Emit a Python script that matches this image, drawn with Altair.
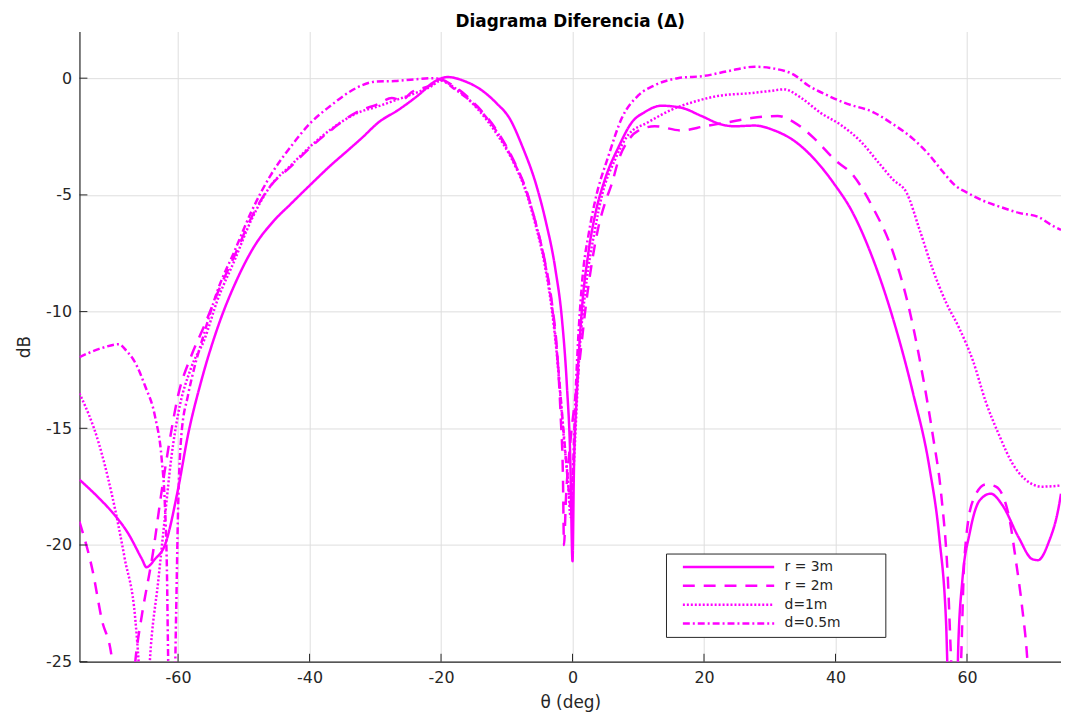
import altair as alt
import pandas as pd

# ---------------- data ----------------
series_names = ["r = 3m", "r = 2m", "d=1m", "d=0.5m"]

theta_r3 = [-75, -72, -70, -67.6, -65.5, -64.8, -63.5, -62, -60, -58.5, -56.5, -54, -51, -48.4,
            -45.4, -42.9, -40, -36.8, -34, -32, -29.5, -26.5, -23.5, -21, -19, -16.5, -14, -11.5,
            -9.6, -7.6, -5.6, -4.1, -2.6, -1.6, -0.85, -0.35, 0, 0.2, 0.65, 1.4, 2.4, 3.4, 4.9, 7,
            9, 11, 13.5, 16.6, 19.6, 22.6, 24.6, 27.7, 30.7, 33.7, 36.8, 39.8, 42.5, 45.5, 48.8,
            51.8, 54.3, 55.8, 56.8, 57.3, 58.4, 58.7, 59.3, 60.4, 61.9, 63.6, 65.4, 67.9, 69.9,
            70.8, 72.4, 74, 74.3]
db_r3 = [-17.2, -18.0, -18.6, -19.5, -20.6, -20.95, -20.6, -20.0, -17.6, -15.3, -13.0, -10.7, -8.6,
         -7.2, -6.1, -5.4, -4.6, -3.74, -3.05, -2.55, -1.89, -1.36, -0.74, -0.15, 0.05, -0.12, -0.48,
         -1.09, -1.71, -2.95, -4.5, -6.1, -8.2, -10.35, -13.2, -16.2, -20.7, -17.0, -13.5, -10.0,
         -7.5, -5.9, -4.36, -2.95, -1.9, -1.45, -1.18, -1.27, -1.62, -1.98, -2.06, -2.03, -2.24,
         -2.68, -3.47, -4.53, -5.7, -7.6, -10.35, -13.5, -16.7, -19.7, -23.2, -27.0, -27.0, -24.1,
         -21.5, -19.5, -18.1, -17.8, -18.3, -19.7, -20.6, -20.65, -19.9, -18.3, -17.8]

theta_r2 = [-75, -73, -71.6, -70.1, -69.3, -67.2, -66.4, -65.5, -63.8, -62.5, -61.5, -60, -58, -56,
            -54, -51.4, -48.9, -45.9, -42.9, -39.8, -36.8, -32.8, -29.5, -27.5, -26, -24.5, -21.5,
            -20.2, -18, -14.5, -11.5, -9, -7.1, -5.6, -4.1, -3.1, -2.3, -1.8, -1.45, -1.3, -1.0,
            -0.3, 0.5, 1.2, 2, 3, 4, 5, 6, 7, 8.4, 10, 12.5, 16.6, 20.1, 23.6, 27.2, 31.2, 33.7,
            36.8, 39.8, 42.8, 45.6, 48.8, 51.3, 53.3, 54.8, 56.1, 57.1, 57.6, 58.0, 58.8, 59.1,
            59.6, 60.9, 62.9, 64.4, 66.4, 67.4, 68.4, 69.2, 69.6]
db_r2 = [-19.0, -21.1, -23.2, -24.8, -27.0, -27.0, -24.7, -23.0, -20.3, -17.7, -15.9, -13.6, -11.9,
         -10.6, -9.2, -7.6, -6.0, -4.6, -3.8, -2.95, -2.24, -1.45, -1.1, -0.85, -0.95, -0.6, -0.3,
         -0.05, -0.35, -1.2, -2.25, -3.5, -4.75, -6.2, -8.0, -9.7, -11.9, -14.5, -17.2, -20.0,
         -18.0, -15.5, -13.5, -11.8, -9.8, -7.8, -6.3, -5.3, -4.5, -3.5, -2.7, -2.25, -2.06,
         -2.24, -2.06, -1.89, -1.71, -1.62, -1.89, -2.59, -3.47, -4.2, -5.5, -7.5, -10.0, -12.8,
         -15.3, -17.9, -21.5, -25.0, -27.0, -27.0, -25.0, -20.6, -18.1, -17.4, -17.5, -18.8,
         -20.6, -22.7, -25.0, -27.0]

theta_d1 = [-75, -72.1, -70.1, -68.1, -66.5, -66, -65.6, -64.7, -64.3, -63, -62, -61, -60, -58, -56,
            -54, -51.4, -48.9, -45.9, -42.9, -39.8, -36.8, -32.8, -29.5, -27, -24.5, -21.5, -20,
            -18, -14.5, -11.5, -9, -7.3, -5.8, -4.3, -3.3, -2.4, -1.8, -1.2, -0.7, -0.3, 0.3, 1,
            2, 3.4, 4.5, 6.5, 8.5, 11.5, 15, 18.6, 22.6, 26.7, 30, 32.2, 34.7, 37.8, 40.8, 43.8,
            46.5, 48.8, 50.8, 52.8, 54.8, 56.8, 58.8, 60.9, 62.9, 64.9, 66.9, 68.9, 71.4, 74.3]
db_d1 = [-13.5, -15.6, -17.8, -20.6, -23.2, -25.0, -27.0, -27.0, -25.0, -21.5, -18.8, -16.2, -14.4,
         -12.4, -11.2, -9.5, -7.8, -6.1, -4.6, -3.75, -2.9, -2.2, -1.5, -1.2, -0.95, -0.7, -0.35,
         -0.1, -0.4, -1.3, -2.4, -3.6, -4.7, -6.1, -7.9, -9.6, -11.8, -13.8, -15.8, -17.2, -18.8,
         -16.0, -12.0, -9.0, -6.5, -5.0, -3.47, -2.42, -1.89, -1.36, -1.0, -0.74, -0.65, -0.55,
         -0.48, -0.83, -1.5, -2.0, -2.7, -3.6, -4.36, -4.9, -6.5, -8.2, -9.6, -10.7, -12.1,
         -13.9, -15.3, -16.5, -17.2, -17.5, -17.45]

theta_d05 = [-75, -72, -69, -67.8, -66.7, -65, -63.5, -62.5, -62, -61.7, -61.5, -61.3, -60.6, -60.3,
             -60, -59.5, -58.5, -57.7, -56, -54, -51.4, -48.9, -45.9, -42.9, -39.8, -36.8, -34,
             -32, -30, -27, -24, -21, -19.5, -18, -14.5, -11.5, -9, -7.2, -5.7, -4.2, -3.2, -2.35,
             -1.7, -1.1, -0.6, -0.2, 0.1, 0.4, 0.8, 1.5, 2.5, 3.4, 5.5, 7.5, 10, 12.5, 16, 20.1,
             23.6, 27.7, 30.7, 33.7, 35.8, 38.8, 41.8, 45.7, 48.8, 51.8, 54.3, 56.3, 58.3, 60,
             62.4, 64.9, 67.9, 70.9, 72.9, 74.3]
db_d05 = [-11.95, -11.6, -11.4, -11.7, -12.1, -13.2, -14.5, -16.3, -18.3, -21.0, -25.0, -27.0, -27.0,
          -23.0, -18.5, -15.3, -13.6, -12.6, -10.9, -9.1, -7.4, -5.75, -4.15, -2.95, -1.9, -1.18,
          -0.6, -0.3, -0.15, -0.12, -0.05, 0.0, -0.15, -0.45, -1.25, -2.3, -3.55, -4.7, -6.1,
          -7.9, -9.6, -11.8, -14.0, -16.0, -17.6, -18.5, -16.5, -14.0, -11.5, -8.6, -6.6, -5.3,
          -3.3, -1.71, -0.74, -0.3, 0.0, 0.1, 0.3, 0.49, 0.41, 0.14, -0.3, -0.74, -1.1, -1.45,
          -1.98, -2.6, -3.3, -4.0, -4.62, -4.9, -5.24, -5.5, -5.77, -5.95, -6.3, -6.5]

x_ticks = [-60, -40, -20, 0, 20, 40, 60]
y_ticks = [-25, -20, -15, -10, -5, 0]

# ---------------- table ----------------
frames = []
for name, th, db in zip(series_names,
                        [theta_r3, theta_r2, theta_d1, theta_d05],
                        [db_r3, db_r2, db_d1, db_d05]):
    frames.append(pd.DataFrame({"theta": th, "db": db, "serie": name}))
df = pd.concat(frames, ignore_index=True)

W, H = 989, 635
MAG = "#ff00ff"
AX = "#262626"
FONT = "DejaVu Sans"

xscale = alt.Scale(domain=[-75, 74.3], nice=False, zero=False)
yscale = alt.Scale(domain=[-25, 2], nice=False, zero=False)

pad = "\u00a0" * 9 + "\u200b"
plain_label = "'' + datum.value"   # hyphen-minus, as in the reference

lines = alt.Chart(df).mark_line(clip=True, color=MAG, strokeWidth=2.5, interpolate="monotone").encode(
    x=alt.X("theta:Q", scale=xscale,
            axis=alt.Axis(values=x_ticks, title="θ (deg)", grid=True, tickSize=0,
                          labelExpr=plain_label, labelPadding=8, titlePadding=9)),
    y=alt.Y("db:Q", scale=yscale,
            axis=alt.Axis(values=y_ticks, title="dB", grid=True, tickSize=0,
                          labelExpr=plain_label, labelPadding=8, titlePadding=12)),
    strokeDash=alt.StrokeDash(
        "serie:N",
        scale=alt.Scale(domain=series_names,
                        range=[[1, 0], [12, 9], [2, 2], [7, 3, 2, 3]]),
        legend=alt.Legend(orient="none", legendX=591, legendY=526, title=None,
                          symbolType="stroke", symbolSize=92 * 92, symbolStrokeWidth=2.5,
                          symbolStrokeColor=MAG, symbolFillColor="transparent",
                          clipHeight=19, rowPadding=0, padding=4,
                          symbolOffset=11.5, labelOffset=9,
                          labelFontSize=14, labelColor=AX, labelFont=FONT,
                          labelExpr="datum.label + '" + pad + "'",
                          strokeColor=AX, fillColor="white"),
    ),
    detail="serie:N",
    order="theta:Q",
)

# inward tick marks (same fields as the line layer so the axes merge)
xt = pd.DataFrame({"theta": x_ticks})
yt = pd.DataFrame({"db": y_ticks})

xtick_rules = alt.Chart(xt).mark_rule(color=AX, strokeWidth=1).encode(
    x=alt.X("theta:Q", scale=xscale),
    y=alt.value(H), y2=alt.value(H - 8),
)
ytick_rules = alt.Chart(yt).mark_rule(color=AX, strokeWidth=1).encode(
    y=alt.Y("db:Q", scale=yscale),
    x=alt.value(0), x2=alt.value(8),
)

chart = alt.layer(lines, xtick_rules, ytick_rules).properties(
    width=W, height=H,
    title=alt.TitleParams("Diagrama Diferencia (Δ)", fontSize=17, fontWeight="bold",
                          color="#000000", font=FONT, anchor="middle", offset=1),
    padding={"left": 72, "top": 21, "right": 0, "bottom": 50},
    autosize=alt.AutoSizeParams(type="none"),
).configure(font=FONT, background="white").configure_view(stroke=None).configure_axis(
    labelFont=FONT, titleFont=FONT, labelFontSize=16, titleFontSize=17,
    labelColor=AX, titleColor=AX, titleFontWeight="normal",
    domainColor=AX, domainWidth=1.2, gridColor="#dedede", gridWidth=1,
)

chart.save("out.html", embed_options={"renderer": "svg", "actions": False})
